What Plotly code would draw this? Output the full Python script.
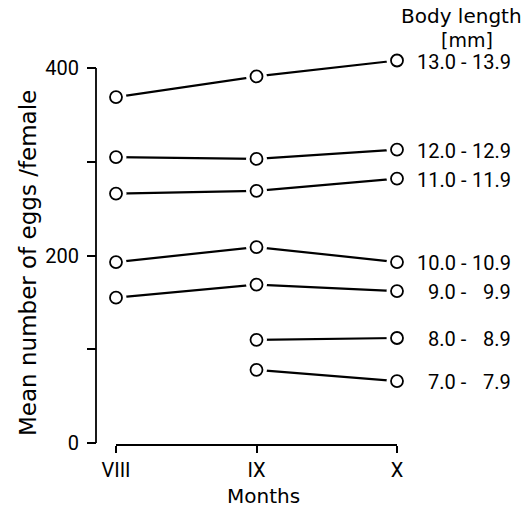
import plotly.graph_objects as go

# ---- data ----
months = ["VIII", "IX", "X"]
lower_bounds = ["13.0", "12.0", "11.0", "10.0", "9.0", "8.0", "7.0"]
upper_bounds = ["13.9", "12.9", "11.9", "10.9", "9.9", "8.9", "7.9"]
len_13 = [369, 391, 408]
len_12 = [305, 303, 313]
len_11 = [266, 269, 282]
len_10 = [193, 209, 193]
len_9 = [155, 169, 162]
len_8 = [None, 110, 112]
len_7 = [None, 78, 66]
series = [len_13, len_12, len_11, len_10, len_9, len_8, len_7]

y_tickvals = [0, 100, 200, 300, 400]
y_ticktext = ["0", "", "200", "", "400"]

W, H = 528, 509
TICK_FONT = dict(family="Roboto", size=20, color="black")
TITLE_FONT = "DejaVu Sans"

# pixel layout helpers
Y0_PX, Y400_PX = 443, 68
PX_PER_UNIT = (Y0_PX - Y400_PX) / 400.0
Y_TOP = 425  # axis range top (extra headroom for points above 400)


def px_x(p):
    return p / W


def px_y(p):
    return (H - p) / H


fig = go.Figure()

# connecting lines
for vals in series:
    fig.add_trace(go.Scatter(x=months, y=vals, mode="lines",
                             line=dict(color="black", width=2.2),
                             connectgaps=False, showlegend=False,
                             hoverinfo="skip", cliponaxis=False))
# white halos around markers (gap between lines and circles)
for vals in series:
    fig.add_trace(go.Scatter(x=months, y=vals, mode="markers",
                             marker=dict(symbol="circle", size=21, color="white",
                                         line=dict(width=0)),
                             showlegend=False, hoverinfo="skip", cliponaxis=False))
# open circles
for lo, hi, vals in zip(lower_bounds, upper_bounds, series):
    fig.add_trace(go.Scatter(x=months, y=vals, mode="markers",
                             name=f"{lo} - {hi}",
                             marker=dict(symbol="circle", size=12, color="white",
                                         line=dict(width=1.8, color="black")),
                             showlegend=False, cliponaxis=False))

annotations = []
# right-hand body length labels
for lo, hi, vals in zip(lower_bounds, upper_bounds, series):
    annotations.append(dict(x=months[-1], y=vals[-1], xref="x", yref="y",
                            text=f"{lo} -", showarrow=False, xanchor="right",
                            yanchor="middle", xshift=72, yshift=-1,
                            font=TICK_FONT))
    annotations.append(dict(x=months[-1], y=vals[-1], xref="x", yref="y",
                            text=hi, showarrow=False, xanchor="right",
                            yanchor="middle", xshift=116, yshift=-1,
                            font=TICK_FONT))

annotations += [
    dict(x=px_x(461), y=px_y(16), xref="paper", yref="paper", text="Body length",
         showarrow=False, xanchor="center", yanchor="middle",
         font=dict(family=TITLE_FONT, size=20, color="black")),
    dict(x=px_x(467), y=px_y(40), xref="paper", yref="paper", text="[mm]",
         showarrow=False, xanchor="center", yanchor="middle",
         font=dict(family=TITLE_FONT, size=19, color="black")),
    dict(x=px_x(263), y=px_y(496), xref="paper", yref="paper", text="Months",
         showarrow=False, xanchor="center", yanchor="middle",
         font=dict(family=TITLE_FONT, size=20, color="black")),
    dict(x=px_x(28), y=px_y(263), xref="paper", yref="paper",
         text="Mean number of eggs /female", textangle=-90,
         showarrow=False, xanchor="center", yanchor="middle",
         font=dict(family=TITLE_FONT, size=23, color="black")),
]

y_axis_x = px_x(96)
shapes = [
    # y axis line spanning only 0..400
    dict(type="line", xref="paper", yref="y", x0=y_axis_x, x1=y_axis_x,
         y0=y_tickvals[0], y1=y_tickvals[-1],
         line=dict(color="black", width=1.8)),
]

fig.update_layout(
    width=W, height=H,
    margin=dict(l=0, r=0, t=0, b=0, pad=0),
    paper_bgcolor="white", plot_bgcolor="white",
    showlegend=False,
    xaxis=dict(type="category", categoryorder="array", categoryarray=months,
               range=[0, 2], domain=[px_x(116), px_x(397)],
               anchor="free", position=px_y(445),
               showline=True, linecolor="black", linewidth=1.8,
               ticks="outside", ticklen=7, tickwidth=1.8, tickcolor="black",
               showgrid=False, zeroline=False, tickfont=TICK_FONT,
               automargin=False),
    yaxis=dict(range=[0, Y_TOP],
               domain=[px_y(Y0_PX), px_y(Y0_PX - Y_TOP * PX_PER_UNIT)],
               anchor="free", position=y_axis_x,
               tickvals=y_tickvals, ticktext=y_ticktext,
               showline=False,
               ticks="outside", ticklen=9, tickwidth=1.8, tickcolor="black",
               ticklabelstandoff=4,
               showgrid=False, zeroline=False, tickfont=TICK_FONT,
               automargin=False),
    annotations=annotations,
    shapes=shapes,
)

fig.write_html(
    "out.html",
    config={"displayModeBar": False},
    post_script="document.body.style.margin='0';document.body.style.overflow='hidden';",
)
